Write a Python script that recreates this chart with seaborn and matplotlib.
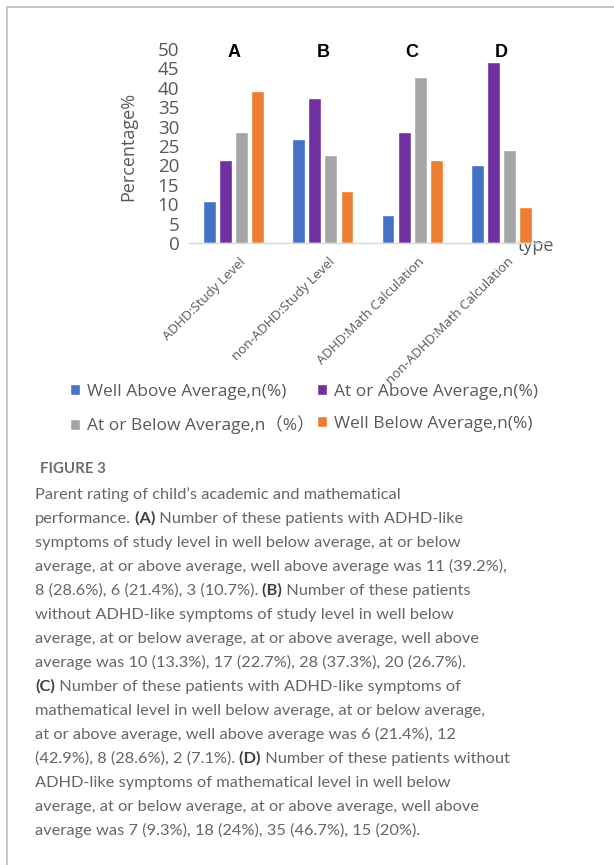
import matplotlib
matplotlib.use("Agg")
import pandas as pd
import matplotlib.pyplot as plt
import seaborn as sns
from matplotlib.lines import Line2D
from matplotlib.transforms import ScaledTranslation

# --- data ---
categories = ["ADHD:Study Level", "non-ADHD:Study Level",
              "ADHD:Math Calculation", "non-ADHD:Math Calculation"]
panel_letters = ["A", "B", "C", "D"]
ratings = ["Well Above Average,n(%)", "At or Above Average,n(%)",
           "At or Below Average,n（%）", "Well Below Average,n(%)"]
well_above = [10.7, 26.7, 7.1, 20.0]
at_or_above = [21.4, 37.3, 28.6, 46.7]
at_or_below = [28.6, 22.7, 42.9, 24.0]
well_below = [39.2, 13.3, 21.4, 9.3]
colors = ["#4472C4", "#7030A0", "#A5A5A5", "#ED7D31"]

caption_title = "FIGURE 3"
caption_lines = [
    "Parent rating of child\u2019s academic and mathematical",
    "performance. **(A)** Number of these patients with ADHD-like",
    "symptoms of study level in well below average, at or below",
    "average, at or above average, well above average was 11 (39.2%),",
    "8 (28.6%), 6 (21.4%), 3 (10.7%). **(B)** Number of these patients",
    "without ADHD-like symptoms of study level in well below",
    "average, at or below average, at or above average, well above",
    "average was 10 (13.3%), 17 (22.7%), 28 (37.3%), 20 (26.7%).",
    "**(C)** Number of these patients with ADHD-like symptoms of",
    "mathematical level in well below average, at or below average,",
    "at or above average, well above average was 6 (21.4%), 12",
    "(42.9%), 8 (28.6%), 2 (7.1%). **(D)** Number of these patients without",
    "ADHD-like symptoms of mathematical level in well below",
    "average, at or below average, at or above average, well above",
    "average was 7 (9.3%), 18 (24%), 35 (46.7%), 15 (20%).",
]

series = [well_above, at_or_above, at_or_below, well_below]
df = pd.DataFrame({
    "type": categories * len(ratings),
    "pct": [v for s in series for v in s],
    "rating": [r for r in ratings for _ in categories],
})

sns.set_style("white")
plt.rcParams["font.family"] = ["Open Sans", "Noto Sans CJK SC", "DejaVu Sans"]

W, H = 614, 865
fig = plt.figure(figsize=(W / 100, H / 100), dpi=100)
ax = fig.add_axes([189 / W, 1 - 243 / H, 357 / W, 194 / H])

sns.barplot(data=df, x="type", y="pct", hue="rating", order=categories,
            hue_order=ratings, palette=colors, saturation=1,
            width=0.72, gap=0.2, ax=ax)

grey = "#595959"
ax.set_ylim(0, 50)
ax.set_yticks(range(0, 51, 5))
ax.tick_params(axis="both", length=0, colors=grey)
ax.tick_params(axis="y", labelsize=13.5, pad=7)
for s in ["left", "top", "right"]:
    ax.spines[s].set_visible(False)
ax.spines["bottom"].set_color("#d9d9d9")
ax.spines["bottom"].set_linewidth(1)

ax.set_xticks(range(len(categories)))
ax.set_xticklabels(categories, rotation=45, ha="right", va="center",
                   rotation_mode="anchor", fontsize=9.5, color=grey)
shift = ScaledTranslation(10 / 100, -12 / 100, fig.dpi_scale_trans)
for lab in ax.get_xticklabels():
    lab.set_transform(lab.get_transform() + shift)

ax.set_ylabel("Percentage%", fontsize=13, color=grey)
ax.yaxis.set_label_coords((128 - 189) / 357, 0.5)
ax.yaxis.label.set_va("center")
ax.set_xlabel("type", fontsize=13, color=grey)
ax.xaxis.set_label_coords(0.972, -0.015)
ax.xaxis.label.set_va("center")

for i, letter in enumerate(panel_letters):
    ax.text(i, 49.2, letter, ha="center", va="center", fontsize=13,
            fontweight="bold", family="Liberation Sans", color="black")

# legend (2 columns, row-wise order)
handles, labels = ax.get_legend_handles_labels()
ax.get_legend().remove()
order = [0, 2, 1, 3]
fig.legend([handles[i] for i in order], [labels[i] for i in order],
           ncol=2, loc="upper left", bbox_to_anchor=(70 / W, 1 - 384 / H),
           frameon=False, fontsize=12.5, labelcolor=grey,
           handlelength=0.6, handleheight=0.6, handletextpad=0.4,
           columnspacing=0.12, labelspacing=0.9, borderpad=0,
           borderaxespad=0)

# frame lines of the figure panel
fig.add_artist(Line2D([7 / W, 7 / W], [0, 1 - 7 / H], transform=fig.transFigure,
                      color="#c8c8c8", lw=1.5))
fig.add_artist(Line2D([7 / W, 1], [1 - 7 / H, 1 - 7 / H], transform=fig.transFigure,
                      color="#c8c8c8", lw=1.5))

# caption
fig.text(40 / W, 1 - 473 / H, caption_title, family="Lato", fontweight="bold",
         fontsize=10.8, color="#6d6d6d", va="baseline", ha="left")

renderer = fig.canvas.get_renderer()
cap_size = 11.8
for k, line in enumerate(caption_lines):
    parts = line.split("**")
    for i in range(len(parts) - 1):
        if parts[i].endswith(" "):
            parts[i] = parts[i].rstrip(" ")
            parts[i + 1] = " " + parts[i + 1]
    x = 35
    y = 1 - (499 + 24 * k) / H
    for i, seg in enumerate(parts):
        if not seg:
            continue
        bold = i % 2 == 1
        t = fig.text(x / W, y, seg, family="Lato",
                     fontweight="bold" if bold else "normal",
                     fontsize=cap_size, color="#404040" if bold else "#666666",
                     va="baseline", ha="left")
        x += t.get_window_extent(renderer=renderer).width

fig.savefig("out.png", dpi=100)
